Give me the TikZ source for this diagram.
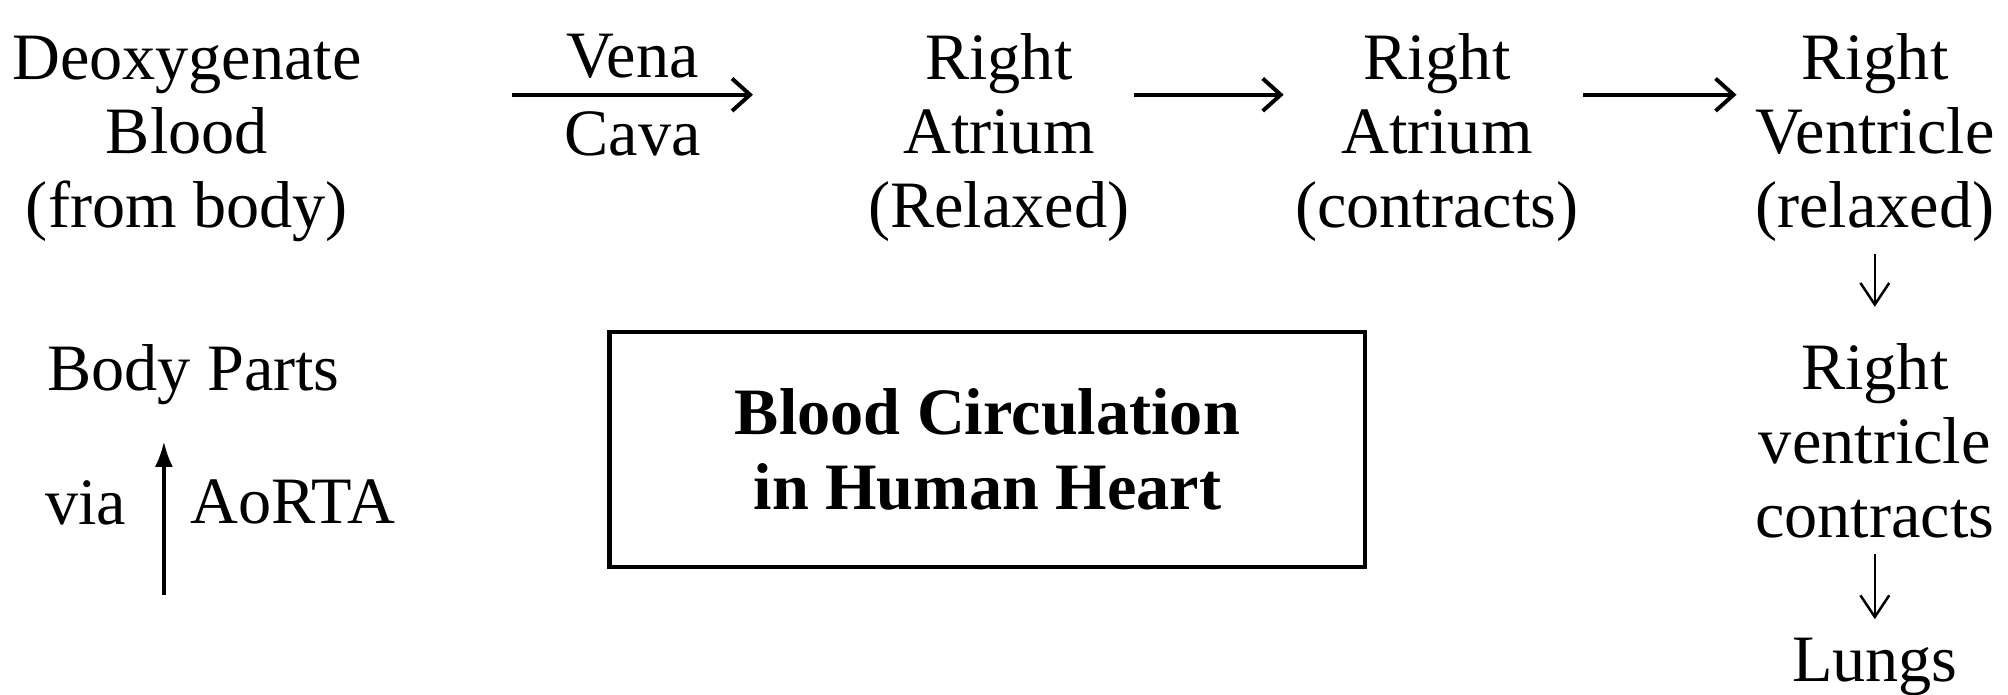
\documentclass[tikz,border=0pt]{standalone}
\usepackage{fontspec}
\setmainfont{Liberation Serif}
\usetikzlibrary{positioning, arrows.meta, calc}

\begin{document}
\begin{tikzpicture}[x=0.125mm, y=-0.125mm, >={Straight Barb[length=5pt,width=9pt]},
    every node/.style={inner sep=0pt, align=center, font=\fontsize{18.4}{20.6}\selectfont},
    flow/.style={->, line width=1.1pt, black},
    down/.style={-{Straight Barb[length=6pt,width=8pt]}, line width=0.7pt, black},
    up/.style={-{Latex[length=7pt,width=5pt]}, line width=0.9pt, black}]
    \useasboundingbox (0,0) rectangle (1568,542);

    % top row (base = last line)
    \node[anchor=base] (deoxy) at (146,178) {Deoxygenate\\Blood\\(from body)};
    \node[anchor=base] (ratr1) at (780,178) {Right\\Atrium\\(Relaxed)};
    \node[anchor=base] (ratr2) at (1122,178) {Right\\Atrium\\(contracts)};
    \node[anchor=base] (rvent1) at (1464,178) {Right\\Ventricle\\(relaxed)};

    % right column
    \node[anchor=base] (rvent2) at (1464,420) {Right\\ventricle\\contracts};
    \node[anchor=base] (lungs) at (1464,532) {Lungs};

    % left column and title
    \node[anchor=base] (body) at (151,305) {Body Parts};
    \node[draw, line width=1.2pt, minimum width=73.75mm, minimum height=22.9mm,
          font=\fontsize{18.4}{20.6}\selectfont\bfseries] (title) at (771,351) {Blood Circulation\\in Human Heart};

    \coordinate (vc1) at (400,74);
    \coordinate (vc2) at (588,74);
    \coordinate (aorta) at (128,465);

    \draw[flow] (vc1) -- node[above=4pt] (vena) {Vena} node[below=4pt] (cava) {Cava} (vc2);
    \draw[flow, shorten <=1pt, shorten >=3pt] (ratr1.east |- vc1) -- (ratr2.west |- vc1);
    \draw[flow, shorten <=1pt, shorten >=5pt] (ratr2.east |- vc1) -- (rvent1.west |- vc1);

    \draw[down, shorten <=3pt, shorten >=10pt] (rvent1.south) -- (rvent2.north);
    \draw[down, shorten <=4pt, shorten >=5pt] (rvent2.south) -- (lungs.north);

    \draw[up, shorten >=10pt] (aorta) -- node[pos=0.49, left=10pt] (via) {via}
        node[pos=0.49, right=7pt] (aortalbl) {AoRTA} (aorta |- body.south);
\end{tikzpicture}
\end{document}
